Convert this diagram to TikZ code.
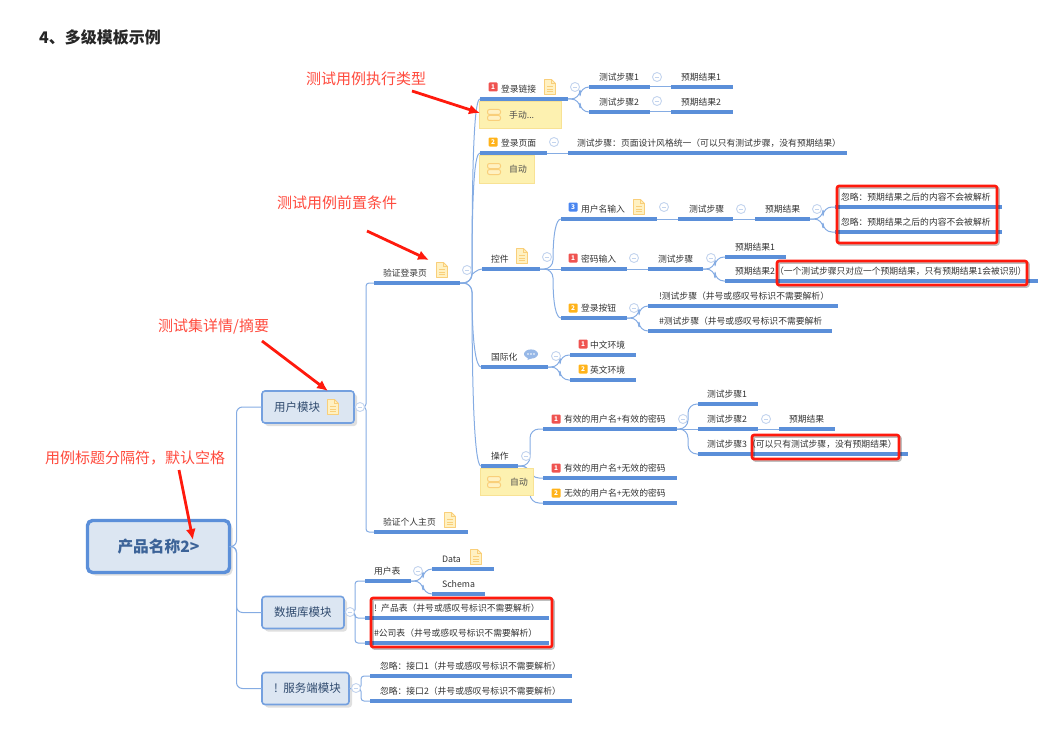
\documentclass[tikz,border=0pt]{standalone}
\usepackage{fontspec}
\setmainfont{Noto Sans CJK SC}
\usetikzlibrary{arrows.meta,shadows}

\definecolor{mapline}{HTML}{5B8FD9}
\definecolor{mapthin}{HTML}{85ACE3}
\definecolor{mapfill}{HTML}{DCE6F2}
\definecolor{mapink}{HTML}{2F4A6E}
\definecolor{rootink}{HTML}{3C6398}
\definecolor{foldline}{HTML}{C3D4EE}
\definecolor{notefill}{HTML}{FDF1B0}
\definecolor{noteline}{HTML}{F8E294}
\definecolor{iconline}{HTML}{F9CF7A}
\definecolor{iconfill}{HTML}{FFF1C2}
\definecolor{markred}{HTML}{FF1A0D}
\definecolor{anno}{HTML}{FF4A3D}
\definecolor{badgered}{HTML}{EF5350}
\definecolor{badgeorange}{HTML}{FFB31A}
\definecolor{badgeblue}{HTML}{4A86F0}

\tikzset{
  topic/.style 2 args={anchor=south west, text width=#1pt, align=left, inner xsep=0pt, inner ysep=5pt, outer sep=0pt,
    text height=7.5pt, text depth=1.5pt, font=\fontsize{8.8}{10}\selectfont, text=black!80,
    execute at begin node={\hspace*{#2pt}}},
  underline/.style={mapline, line width=3.2pt},
  module/.style={draw=mapline!85, fill=mapfill, line width=1.6pt, rounded corners=3pt, text=mapink, anchor=north west,
    inner sep=0pt, outer sep=0pt, align=left, font=\fontsize{11.5}{13}\selectfont,
    drop shadow={shadow xshift=3pt, shadow yshift=-3pt, opacity=.25}},
  notebox/.style 2 args={fill=notefill, draw=noteline, anchor=north west, inner xsep=0pt, inner ysep=0pt, align=left,
    text width=#1pt, minimum height=#2pt, font=\fontsize{8.8}{10}\selectfont, text=black!70,
    execute at begin node={\hspace*{30pt}}},
  redbox/.style={draw=markred, line width=2.6pt, rounded corners=2pt, anchor=north west, inner sep=0pt, outer sep=0pt,
    preaction={draw=black, draw opacity=.25, transform canvas={xshift=1.5pt,yshift=-1.5pt}}},
  branch/.style={mapthin, line width=1pt, rounded corners=9pt},
  square/.style={mapthin, line width=1pt, rounded corners=3pt},
  fold/.style={circle, draw=foldline, fill=white, line width=.9pt, minimum size=9pt, inner sep=0pt,
    path picture={\draw[foldline, line width=.9pt] (-2.2pt,0) -- (2.2pt,0);}},
  badge/.style={fill=#1, text=white, rounded corners=1pt, minimum size=9pt, inner sep=0pt,
    font=\fontsize{6.5}{7}\selectfont\bfseries},
  anno/.style={text=anno, font=\fontsize{15}{16}\selectfont, inner sep=0pt},
  redarrow/.style={markred, line width=2.8pt, -{Latex[length=11pt,width=10pt]}},
  docicon/.pic={
    \draw[iconline, fill=iconfill, line width=.8pt, line join=round] (-5.5,-7.5) -- (1.5,-7.5) -- (5.5,-3.5) -- (5.5,7.5) -- (-5.5,7.5) -- cycle;
    \draw[iconline, line width=.8pt] (1.5,-7.5) -- (1.5,-3.5) -- (5.5,-3.5);
    \foreach \yy in {-.5,2,4.5} \draw[iconline, line width=.8pt] (-3,\yy) -- (3,\yy);
  },
  stackicon/.pic={
    \draw[iconline, fill=iconfill, line width=1pt, rounded corners=2pt] (-6.5,-5.5) rectangle (6.5,-.5);
    \draw[iconline, fill=iconfill, line width=1pt, rounded corners=2pt] (-6.5,.5) rectangle (6.5,5.5);
  },
  bubbleicon/.pic={
    \fill[mapthin!85] (0,0) ellipse (7 and 4.6);
    \fill[mapthin!85] (-3,3) -- (-3.5,6) -- (1,4) -- cycle;
    \foreach \xx in {-3,0,3} \fill[white] (\xx,0) circle (.9);
  }
}

\begin{document}
\begin{tikzpicture}[x=1pt, y=-1pt]
  \useasboundingbox (0,0) rectangle (1054,733);
  \node[inner sep=0pt, anchor=west, font=\fontsize{16}{18}\selectfont\bfseries, text=black!85] (heading) at (39,37) {4、多级模板示例};

  % root and modules
  \node[module, draw=mapline, fill=mapfill, line width=3.4pt, rounded corners=5pt, minimum width=142pt, minimum height=52pt,
    align=center, text=rootink, font=\fontsize{15.7}{18}\selectfont\bfseries] (rootTopic) at (87.5,520.5) {产品名称2>};
  \node[module, minimum width=92pt, minimum height=32pt, text width=92pt] (modUser) at (262,391) {\hspace*{12pt}用户模块};
  \node[module, minimum width=82pt, minimum height=32pt, text width=82pt] (modDb) at (262,596.5) {\hspace*{12pt}数据库模块};
  \node[module, minimum width=87pt, minimum height=32pt, text width=87pt] (modApi) at (262,672.5) {\hspace*{12pt}! 服务端模块};

  % first branch
  \node[topic={86}{9}] (topicVerify) at (374,283) {验证登录页};
  \node[topic={94}{9}] (topicHome) at (374,532) {验证个人主页};

  \node[topic={88}{21}] (topicLink) at (480,99) {登录链接};
  \node[topic={61}{10}] (linkStepA) at (589,87) {测试步骤1};
  \node[topic={62}{10}] (linkResA) at (671,87) {预期结果1};
  \node[topic={61}{10}] (linkStepB) at (589,112) {测试步骤2};
  \node[topic={62}{10}] (linkResB) at (671,112) {预期结果2};
  \node[topic={67}{21}] (topicPage) at (480,153) {登录页面};
  \node[topic={279}{9}] (pageStep) at (568,153) {测试步骤：页面设计风格统一（可以只有测试步骤，没有预期结果）};

  \node[topic={58}{9}] (topicCtl) at (482,269) {控件};
  \node[topic={96}{20}] (nameInput) at (561,219) {用户名输入};
  \node[topic={55}{11}] (nameStep) at (678,219) {测试步骤};
  \node[topic={55}{10}] (nameRes) at (755,219) {预期结果};
  \node[topic={167}{6}] (ignoreA) at (835,207) {忽略：预期结果之后的内容不会被解析};
  \node[topic={167}{6}] (ignoreB) at (835,232) {忽略：预期结果之后的内容不会被解析};
  \node[topic={66}{20}] (pwdInput) at (561,269) {密码输入};
  \node[topic={55}{10}] (pwdStep) at (648,269) {测试步骤};
  \node[topic={61}{10}] (pwdResA) at (725,257) {预期结果1};
  \node[topic={313}{10}] (pwdResB) at (725,281) {预期结果2（一个测试步骤只对应一个预期结果，只有预期结果1会被识别）};
  \node[topic={66}{20}] (btnInput) at (561,318) {登录按钮};
  \node[topic={190}{11}] (btnStepA) at (648,306) {!测试步骤（井号或感叹号标识不需要解析）};
  \node[topic={184}{11}] (btnStepB) at (648,331) {\#测试步骤（井号或感叹号标识不需要解析};

  \node[topic={67}{10}] (topicIntl) at (481,367) {国际化};
  \node[topic={66}{20}] (intlZh) at (570,355) {中文环境};
  \node[topic={66}{20}] (intlEn) at (570,380) {英文环境};

  \node[topic={37}{10}] (topicOp) at (481,466) {操作};
  \node[topic={134}{21}] (opValid) at (543,429) {有效的用户名+有效的密码};
  \node[topic={134}{21}] (opBadPwd) at (543,478) {有效的用户名+无效的密码};
  \node[topic={134}{21}] (opBadAll) at (543,503) {无效的用户名+无效的密码};
  \node[topic={60}{9}] (opStepA) at (698,404) {测试步骤1};
  \node[topic={60}{9}] (opStepB) at (698,429) {测试步骤2};
  \node[topic={56}{10}] (opRes) at (779,429) {预期结果};
  \node[topic={210}{9}] (opStepC) at (698,454) {测试步骤3（可以只有测试步骤，没有预期结果）};

  % second and third branch
  \node[topic={46}{9}] (tblUser) at (365,581) {用户表};
  \node[topic={62}{10}] (tblData) at (432,569) {Data};
  \node[topic={53}{10}] (tblSchema) at (432,594) {Schema};
  \node[topic={184}{9}] (tblProduct) at (365,618) {! 产品表（井号或感叹号标识不需要解析）};
  \node[topic={184}{9}] (tblCompany) at (365,643) {\#公司表（井号或感叹号标识不需要解析）};
  \node[topic={202}{10}] (apiA) at (370,676) {忽略：接口1（井号或感叹号标识不需要解析）};
  \node[topic={202}{10}] (apiB) at (370,701) {忽略：接口2（井号或感叹号标识不需要解析）};

  % connectors
  \foreach \kid in {modUser,modDb,modApi}
    \draw[square, rounded corners=6pt] (rootTopic.east) -- ++(7,0) |- (\kid.west);
  \foreach \kid in {topicVerify,topicHome}
    \draw[square] (modUser.east) -- ++(12,0) |- (\kid.south west);
  \foreach \kid in {tblUser,tblProduct,tblCompany}
    \draw[square] (modDb.east) -- ++(11,0) |- (\kid.south west);
  \foreach \kid in {apiA,apiB}
    \draw[square] (modApi.east) -- ++(12,0) |- (\kid.south west);

  \foreach \kid/\dy in {topicLink/-140,topicPage/-100,topicCtl/-8,topicIntl/60,topicOp/140}
    \draw[branch] (topicVerify.south east) -- ++(12,0) .. controls +(0,\dy) and +(-5,0) .. (\kid.south west);
  \foreach \kid/\dy in {nameInput/-35,btnInput/35}
    \draw[branch] (topicCtl.south east) -- ++(13,0) .. controls +(0,\dy) and +(-5,0) .. (\kid.south west);
  \foreach \kid in {pwdInput} \draw[branch] (topicCtl.south east) -- (\kid.south west);

  \foreach \from/\kid/\run in {topicLink/linkStepA/12,topicLink/linkStepB/12,nameRes/ignoreA/13,nameRes/ignoreB/13,
      pwdStep/pwdResA/12,pwdStep/pwdResB/12,btnInput/btnStepA/12,btnInput/btnStepB/12,topicIntl/intlZh/12,topicIntl/intlEn/12,
      topicOp/opValid/12,topicOp/opBadPwd/12,topicOp/opBadAll/12,opValid/opStepA/11,opValid/opStepC/11,tblUser/tblData/12,tblUser/tblSchema/12}
    \draw[branch] (\from.south east) -- ++(\run,0) |- (\kid.south west);
  \foreach \from/\kid in {linkStepA/linkResA,linkStepB/linkResB,topicPage/pageStep,nameInput/nameStep,nameStep/nameRes,
      pwdInput/pwdStep,opValid/opStepB,opStepB/opRes}
    \draw[branch] (\from.south east) -- (\kid.south west);

  % underlines
  \foreach \t in {topicVerify,topicHome,topicLink,linkStepA,linkResA,linkStepB,linkResB,topicPage,pageStep,topicCtl,
      nameInput,nameStep,nameRes,ignoreA,ignoreB,pwdInput,pwdStep,pwdResA,pwdResB,btnInput,btnStepA,btnStepB,
      topicIntl,intlZh,intlEn,topicOp,opValid,opBadPwd,opBadAll,opStepA,opStepB,opRes,opStepC,
      tblUser,tblData,tblSchema,tblProduct,tblCompany,apiA,apiB}
    \draw[underline] (\t.south west) -- (\t.south east);

  % notes
  \node[notebox={82}{27}] (noteManual) at (479,101) {手动...};
  \node[notebox={55}{28}] (notePage) at (479,155) {自动};
  \node[notebox={53}{27}] (noteOp) at (480,468) {自动};
  \pic at (494,115) {stackicon};
  \pic at (494,169) {stackicon};
  \pic at (494,482) {stackicon};

  % badges, icons, fold marks
  \foreach \x/\y/\c/\n [count=\i] in {493/87/badgered/1,493/142/badgeorange/2,573/207/badgeblue/3,573/258/badgered/1,573/308/badgeorange/2,
      583/344/badgered/1,583/369/badgeorange/2,556/419/badgered/1,556/468/badgered/1,556/493/badgeorange/2}
    \node[badge=\c] (badge\i) at (\x,\y) {\n};
  \foreach \x/\y in {550/87,442/270,522/256,639/207,450/520,476/557,333/407}
    \pic at (\x,\y) {docicon};
  \pic at (531,354) {bubbleicon};
  \foreach \x/\y [count=\i] in {575/87,657/77,657/101,554/142,467/270,547/257,664/207,741/209,817/209,634/258,711/258,634/308,
      556/356,526/456,683/419,766/419,360/407,350/612,356/688,418/571}
    \node[fold] (fold\i) at (\x,\y) {};

  % marks
  \node[redbox, minimum width=160pt, minimum height=57pt] (boxIgnore) at (837,186) {};
  \node[redbox, minimum width=250pt, minimum height=24pt] (boxPwd) at (777,261) {};
  \node[redbox, minimum width=147pt, minimum height=24pt] (boxOp) at (752,435) {};
  \node[redbox, minimum width=181pt, minimum height=49pt] (boxDb) at (371,598) {};

  \node[anno, anchor=west] (annoType) at (306,79) {测试用例执行类型};
  \node[anno, anchor=west] (annoPre) at (277,203) {测试用例前置条件};
  \node[anno, anchor=west] (annoSuite) at (158,326) {测试集详情/摘要};
  \node[anno, anchor=west] (annoSep) at (45,458) {用例标题分隔符，默认空格};

  \coordinate (tailType) at (412,91);
  \coordinate (tailPre) at (367,231);
  \coordinate (tailSuite) at (262,341);
  \coordinate (tailSep) at (179,470);
  \coordinate (tipType) at (480,113);
  \coordinate (tipPre) at (429,260);
  \coordinate (tipSuite) at (328,391);
  \coordinate (tipSep) at (193,540);
  \draw[redarrow] (tailType) -- (tipType);
  \draw[redarrow] (tailPre) -- (tipPre);
  \draw[redarrow] (tailSuite) -- (tipSuite);
  \draw[redarrow] (tailSep) -- (tipSep);
\end{tikzpicture}
\end{document}
